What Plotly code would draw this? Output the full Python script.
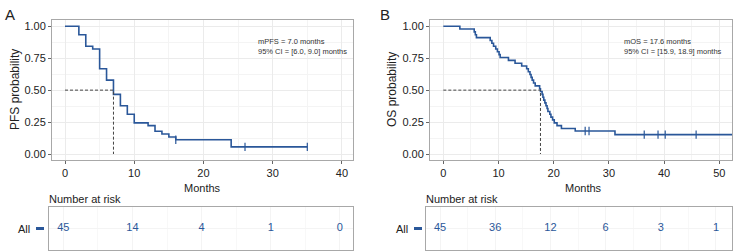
import plotly.graph_objects as go

W, H = 736, 252

# ---------------- data ----------------
pfs_time = [0, 2, 3, 4, 5, 6, 7, 8, 9, 10, 12, 13, 14, 15, 16, 24, 35]
pfs_surv = [1.0, 0.933, 0.844, 0.822, 0.667, 0.578, 0.467, 0.378, 0.311, 0.244,
            0.222, 0.178, 0.156, 0.133, 0.111, 0.056, 0.056]
pfs_cens_time = [16, 26, 35]
pfs_cens_surv = [0.111, 0.056, 0.056]
pfs_median = 7.0

os_time = [0, 3.0, 5.6, 5.8, 6.0, 8.5, 8.8, 9.1, 9.5, 9.8, 10.1, 10.3, 11.8, 13.0,
           14.2, 15.1, 15.4, 15.7, 15.9, 16.1, 16.35, 16.65, 17.45, 17.6, 17.9,
           18.05, 18.2, 18.4, 18.6, 18.8, 18.95, 19.3, 19.5, 19.8, 20.1, 20.6,
           21.4, 23.9, 31.1, 52.3]
os_surv = [1.0, 0.978, 0.956, 0.933, 0.911, 0.889, 0.867, 0.844, 0.822, 0.800,
           0.778, 0.756, 0.733, 0.711, 0.689, 0.667, 0.644, 0.622, 0.600, 0.578,
           0.556, 0.533, 0.511, 0.489, 0.467, 0.444, 0.422, 0.400, 0.378, 0.356,
           0.333, 0.311, 0.289, 0.267, 0.244, 0.222, 0.200, 0.180, 0.152, 0.152]
os_cens_time = [25.7, 26.4, 36.4, 38.9, 40.2, 45.8]
os_cens_surv = [0.180, 0.180, 0.152, 0.152, 0.152, 0.152]
os_median = 17.6

risk_a_time = [0, 10, 20, 30, 40]
risk_a_n = [45, 14, 4, 1, 0]
risk_b_time = [0, 10, 20, 30, 40, 50]
risk_b_n = [45, 36, 12, 6, 3, 1]

y_ticks = [0, 0.25, 0.5, 0.75, 1.0]
y_ticklabels = ["0.00", "0.25", "0.50", "0.75", "1.00"]

# ---------------- style ----------------
BLUE = "#2a5799"
FONT = "Liberation Sans, Arial, sans-serif"
GRID = "#ebebeb"
MINOR = "#f4f4f4"
BORDER = "#a8a8a8"
TXT = "#222222"


def px_x(a, b):
    return [a / W, b / W]


def px_y(top, bottom):
    return [1 - bottom / H, 1 - top / H]


fig = go.Figure()

# ---- panel A curve ----
fig.add_trace(go.Scatter(x=pfs_time, y=pfs_surv, mode="lines", line_shape="hv",
                         line=dict(color=BLUE, width=1.6), xaxis="x", yaxis="y",
                         showlegend=False, hoverinfo="skip"))
fig.add_trace(go.Scatter(x=pfs_cens_time, y=pfs_cens_surv, mode="markers",
                         marker=dict(symbol="line-ns", size=6, line=dict(color=BLUE, width=1.2)),
                         xaxis="x", yaxis="y", showlegend=False, hoverinfo="skip"))
fig.add_trace(go.Scatter(x=[0, pfs_median, pfs_median], y=[0.5, 0.5, 0], mode="lines",
                         line=dict(color="#444444", width=1, dash="3px,2px"),
                         xaxis="x", yaxis="y", showlegend=False, hoverinfo="skip"))

# ---- panel B curve ----
fig.add_trace(go.Scatter(x=os_time, y=os_surv, mode="lines", line_shape="hv",
                         line=dict(color=BLUE, width=1.6), xaxis="x2", yaxis="y2",
                         showlegend=False, hoverinfo="skip", cliponaxis=True))
fig.add_trace(go.Scatter(x=os_cens_time, y=os_cens_surv, mode="markers",
                         marker=dict(symbol="line-ns", size=6, line=dict(color=BLUE, width=1.2)),
                         xaxis="x2", yaxis="y2", showlegend=False, hoverinfo="skip"))
fig.add_trace(go.Scatter(x=[0, os_median, os_median], y=[0.5, 0.5, 0], mode="lines",
                         line=dict(color="#444444", width=1, dash="3px,2px"),
                         xaxis="x2", yaxis="y2", showlegend=False, hoverinfo="skip"))

# ---- risk tables ----
fig.add_trace(go.Scatter(x=risk_a_time, y=[0.5] * len(risk_a_time), mode="text",
                         text=[str(v) for v in risk_a_n],
                         textfont=dict(color=BLUE, size=11, family=FONT),
                         xaxis="x3", yaxis="y3", showlegend=False, hoverinfo="skip"))
fig.add_trace(go.Scatter(x=risk_b_time, y=[0.5] * len(risk_b_time), mode="text",
                         text=[str(v) for v in risk_b_n],
                         textfont=dict(color=BLUE, size=11, family=FONT),
                         xaxis="x4", yaxis="y4", showlegend=False, hoverinfo="skip"))

main_top, main_bot = 20, 160
risk_top, risk_bot = 207, 250

common_x = dict(showline=True, mirror=True, linecolor=BORDER, linewidth=1,
                showgrid=True, gridcolor=GRID, gridwidth=1, zeroline=False,
                ticks="outside", ticklen=3, tickcolor="#666666",
                tickfont=dict(size=11, color=TXT, family=FONT),
                minor=dict(dtick=5, showgrid=True, gridcolor=MINOR, ticks=""))
common_y = dict(showline=True, mirror=True, linecolor=BORDER, linewidth=1,
                showgrid=True, gridcolor=GRID, gridwidth=1, zeroline=False,
                ticks="outside", ticklen=3, tickcolor="#666666",
                tickfont=dict(size=11, color=TXT, family=FONT),
                tickvals=y_ticks, ticktext=y_ticklabels,
                range=[-0.047, 1.049],
                minor=dict(tickvals=[0.125, 0.375, 0.625, 0.875], showgrid=True,
                           gridcolor=MINOR, ticks=""))

fig.update_layout(
    width=W, height=H, margin=dict(l=0, r=0, t=0, b=0),
    paper_bgcolor="white", plot_bgcolor="white",
    font=dict(family=FONT, color=TXT),
    xaxis=dict(domain=px_x(52, 353), range=[-1.88, 41.6], dtick=10, tick0=0,
               anchor="y", **common_x),
    yaxis=dict(domain=px_y(main_top, main_bot), anchor="x", **common_y),
    xaxis2=dict(domain=px_x(430, 732), range=[-2.41, 52.3], dtick=10, tick0=0,
                anchor="y2", **common_x),
    yaxis2=dict(domain=px_y(main_top, main_bot), anchor="x2", **common_y),
    xaxis3=dict(domain=px_x(49, 353), range=[-2.07, 41.9], dtick=10, tick0=0,
                anchor="y3", showticklabels=False, ticks="",
                showline=True, mirror=True, linecolor=BORDER, linewidth=1,
                showgrid=True, gridcolor=MINOR, zeroline=False,
                minor=dict(dtick=5, showgrid=True, gridcolor="#f8f8f8")),
    yaxis3=dict(domain=px_y(risk_top, risk_bot), range=[0, 1], anchor="x3",
                showticklabels=False, ticks="", tickvals=[0.5],
                showline=True, mirror=True, linecolor=BORDER, linewidth=1,
                showgrid=True, gridcolor=MINOR, zeroline=False),
    xaxis4=dict(domain=px_x(426, 732), range=[-2.54, 52.9], dtick=10, tick0=0,
                anchor="y4", showticklabels=False, ticks="",
                showline=True, mirror=True, linecolor=BORDER, linewidth=1,
                showgrid=True, gridcolor=MINOR, zeroline=False,
                minor=dict(dtick=5, showgrid=True, gridcolor="#f8f8f8")),
    yaxis4=dict(domain=px_y(risk_top, risk_bot), range=[0, 1], anchor="x4",
                showticklabels=False, ticks="", tickvals=[0.5],
                showline=True, mirror=True, linecolor=BORDER, linewidth=1,
                showgrid=True, gridcolor=MINOR, zeroline=False),
)

ann = []


def paper_text(x, y, text, size, anchor="center", angle=0, color=TXT, align="center"):
    ann.append(dict(x=x / W, y=1 - y / H, xref="paper", yref="paper", text=text,
                    showarrow=False, xanchor=anchor, yanchor="middle", textangle=angle,
                    align=align, font=dict(size=size, color=color, family=FONT)))


paper_text(3, 14, "A", 15, anchor="left")
paper_text(378, 14, "B", 15, anchor="left")
paper_text(15, 90, "PFS probability", 12, angle=-90)
paper_text(392, 90, "OS probability", 12, angle=-90)
paper_text(203, 188, "Months", 11)
paper_text(583, 188, "Months", 11)
paper_text(47, 199, "Number at risk", 11, anchor="left")
paper_text(424, 199, "Number at risk", 11, anchor="left")
paper_text(32, 229, "All", 11, anchor="right")
paper_text(410, 229, "All", 11, anchor="right")
paper_text(256, 46, "mPFS = 7.0 months<br>95% CI = [6.0, 9.0] months", 7.5,
           anchor="left", align="left", color="#333333")
paper_text(622, 46, "mOS = 17.6 months<br>95% CI = [15.9, 18.9] months", 7.5,
           anchor="left", align="left", color="#333333")
fig.update_layout(annotations=ann)

# legend-key dashes next to "All"
for x0 in (36, 414):
    fig.add_shape(type="line", xref="paper", yref="paper",
                  x0=x0 / W, x1=(x0 + 8) / W, y0=1 - 228.5 / H, y1=1 - 228.5 / H,
                  line=dict(color=BLUE, width=3))

fig.write_html("out.html", config={"displayModeBar": False},
               post_script="document.body.style.margin='0';document.body.style.overflow='hidden';")
